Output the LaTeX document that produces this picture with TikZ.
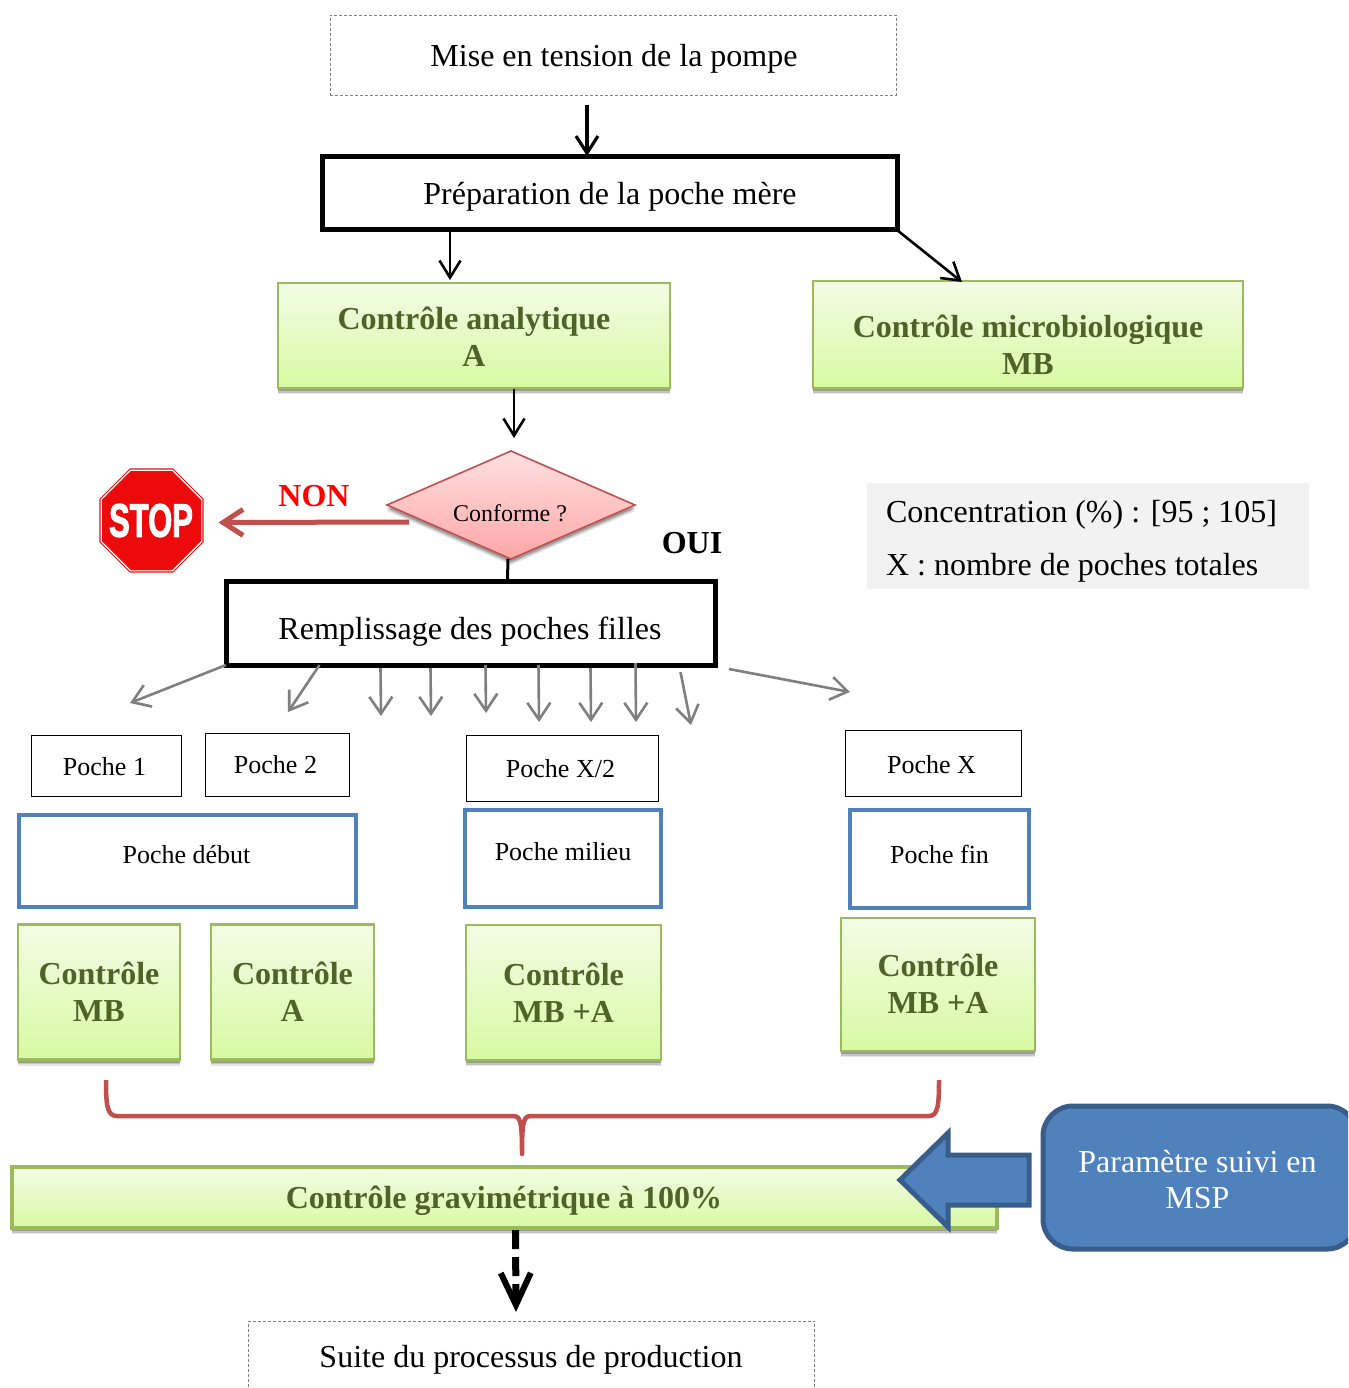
\documentclass[tikz,border=0pt]{standalone}
\usepackage{fontspec}
\setmainfont{Liberation Serif}
\setsansfont{Liberation Sans}
\newfontfamily\stopfont[BoldFeatures={FakeBold=2.5}]{Liberation Sans}
\usetikzlibrary{arrows.meta,shapes.geometric,shadows}
\definecolor{gborder}{HTML}{9BBB59}
\definecolor{gtext}{HTML}{4F6228}
\definecolor{gtop}{HTML}{F3FCE6}
\definecolor{gbot}{HTML}{D8FAA2}
\definecolor{bline}{HTML}{4F81BD}
\definecolor{bdark}{HTML}{385D8A}
\definecolor{rline}{HTML}{C0504D}
\definecolor{stopred}{HTML}{EC0A0A}
\definecolor{gline}{HTML}{7F7F7F}
\tikzset{
  x=1pt,y=-1pt,
  every node/.style={outer sep=0pt,inner sep=0pt,align=center},
  softshadow/.style={
    drop shadow={shadow xshift=0pt,shadow yshift=-6pt,opacity=.10,fill=black},
    drop shadow={shadow xshift=0pt,shadow yshift=-4.5pt,opacity=.14,fill=black},
    drop shadow={shadow xshift=0pt,shadow yshift=-3pt,opacity=.20,fill=black}},
  dotbox/.style={draw=gray,line width=.9pt,densely dashed,fill=white},
  thickbox/.style={draw=black,line width=5pt,fill=white},
  thinbox/.style={draw=black,line width=1pt,fill=white},
  bluebox/.style={draw=bline,line width=4.5pt,fill=white},
  greenbox/.style={draw=gborder,line width=2.5pt,top color=gtop,bottom color=gbot,softshadow,text=gtext,font=\fontsize{32}{37}\selectfont\bfseries},
  big/.style={font=\fontsize{32}{36}\selectfont},
  mid/.style={font=\fontsize{26}{30}\selectfont},
  heavy/.style={font=\fontsize{32}{37}\selectfont\bfseries},
  blk/.style={draw=black,-{Straight Barb[length=17pt,width=22pt,line width=3.2pt]}},
  blkthin/.style={draw=black,line width=2.6pt,-{Straight Barb[length=17pt,width=21pt,line width=2.6pt]}},
  gry/.style={draw=gline,line width=2.6pt,-{Straight Barb[length=17pt,width=23pt,line width=2.6pt]}},
}
\begin{document}
\begin{tikzpicture}
\clip (0,0) rectangle (1348,1388);
\fill[white] (0,0) rectangle (1348,1388);
% top boxes
\node[dotbox,minimum width=566pt,minimum height=80pt] (mise) at (613,55) {};
\node[big] (miset) at (614,58.5) {Mise en tension de la pompe};
\node[thickbox,minimum width=575pt,minimum height=73pt] (prep) at (609.5,193.5) {};
\node[big] (prept) at (610,196.5) {Préparation de la poche mère};
\node[greenbox,minimum width=392pt,minimum height=105pt] (ana) at (474,335.5) {};
\node[heavy,text=gtext] (anat) at (474,336.5) {Contrôle analytique\\A};
\node[greenbox,minimum width=430pt,minimum height=107pt] (micro) at (1028,334.5) {};
\node[heavy,text=gtext] (microt) at (1028,344.5) {Contrôle microbiologique\\MB};
% decision
\node[diamond,aspect=2.3,draw=rline,line width=1.6pt,top color=red!12,bottom color=red!35,minimum width=248pt,minimum height=108pt,softshadow] (conf) at (511,505) {};
\node[font=\fontsize{24}{28}\selectfont] (conft) at (510,513) {Conforme ?};
\node[regular polygon,regular polygon sides=8,minimum size=109pt,fill=stopred,draw=stopred,double=white,double distance=1.2pt,line width=1.1pt] (stop) at (151.5,520.5) {};
\node[text=white] (stopt) at (151,520.5) {\scalebox{.66}[1]{\fontsize{47}{50}\selectfont\stopfont\bfseries STOP}};
\node[heavy,text=red] (non) at (314,496) {NON};
\node[heavy] (oui) at (692,543) {OUI};
\node[thickbox,minimum width=489pt,minimum height=84pt] (rempli) at (470.5,623) {};
\node[big] (remplit) at (470,632) {Remplissage des poches filles};
% info
\node[fill=black!5,minimum width=442pt,minimum height=106pt] (info) at (1088,536) {};
\node[anchor=west,big] (infoa) at (886,514.5) {Concentration (\%) : [95 ; 105]};
\node[anchor=west,big] (infob) at (886,567.5) {X : nombre de poches totales};
% poches
\node[thinbox,minimum width=150pt,minimum height=61pt] (p1) at (106,765.5) {};
\node[mid] (p1t) at (104.5,766.5) {Poche 1};
\node[thinbox,minimum width=144pt,minimum height=63pt] (p2) at (277,764.5) {};
\node[mid] (p2t) at (275.5,764.5) {Poche 2};
\node[thinbox,minimum width=192pt,minimum height=66pt] (pm) at (562,768) {};
\node[mid] (pmt) at (560.5,768.5) {Poche X/2};
\node[thinbox,minimum width=176pt,minimum height=66pt] (px) at (933,763) {};
\node[mid] (pxt) at (931.5,764.5) {Poche X};
\node[bluebox,minimum width=337pt,minimum height=92pt] (deb) at (187.5,861) {};
\node[mid] (debt) at (186.5,855) {Poche début};
\node[bluebox,minimum width=196pt,minimum height=97pt] (mil) at (563,858.5) {};
\node[mid] (milt) at (563,852) {Poche milieu};
\node[bluebox,minimum width=179pt,minimum height=98pt] (fin) at (939.5,859) {};
\node[mid] (fint) at (939.5,854.5) {Poche fin};
% green controls
\node[greenbox,minimum width=162pt,minimum height=135pt] (c1) at (99,992) {Contrôle\\MB};
\node[greenbox,minimum width=163pt,minimum height=135pt] (c2) at (292.5,992) {Contrôle\\A};
\node[greenbox,minimum width=195pt,minimum height=135pt] (c3) at (563.5,992.5) {Contrôle\\MB +A};
\node[greenbox,minimum width=194pt,minimum height=133pt] (c4) at (938,984.5) {};
\node[heavy,text=gtext] (c4t) at (938,983.5) {Contrôle\\MB +A};
% brace
\draw[rline,line width=4.5pt,line join=round] (106,1080) .. controls (106,1105) and (107,1116) .. (117,1116) -- (512,1116) .. controls (520,1116) and (522,1118) .. (522,1154) .. controls (522,1118) and (524,1116) .. (532,1116) -- (929,1116) .. controls (938,1116) and (939,1105) .. (939,1080);
% gravimetric
\node[greenbox,line width=4pt,minimum width=985pt,minimum height=61pt] (grav) at (504.5,1197.5) {};
\node[text=gtext,heavy] (gravt) at (504,1201) {Contrôle gravimétrique à 100\%};
% MSP arrow and box
\draw[bdark,line width=5pt,fill=bline,line join=miter] (1029,1155) -- (948,1155) -- (948,1133) -- (900,1180) -- (948,1227) -- (948,1205) -- (1029,1205) -- cycle;
\node[draw=bdark,fill=bline,line width=5pt,rounded corners=30pt,minimum width=314pt,minimum height=143pt] (msp) at (1200,1177.5) {};
\node[text=white,big] (mspt) at (1197.5,1179.5) {Paramètre suivi en\\MSP};
% bottom
\node[dotbox,minimum width=566pt,minimum height=80pt] (suite) at (531.5,1361) {};
\node[big] (suitet) at (531,1359.5) {Suite du processus de production};
% end points of the free arrows
\coordinate (g1) at (130,703);
\coordinate (g2) at (288,712);
\coordinate (g3) at (381,716);
\coordinate (g4) at (431,716);
\coordinate (g5) at (486,713);
\coordinate (g6) at (539,722);
\coordinate (g7) at (591,722);
\coordinate (g8) at (636,722);
\coordinate (g9) at (691,725);
\coordinate (g10) at (850,692);
% connectors
\draw[blk,line width=3.4pt] ([shift={(-26,10)}]mise.south) -- ([shift={(-22.5,-1)}]prep.north);
\draw[blkthin] ([shift={(-159.5,2)}]prep.south) -- ([shift={(-24,-3)}]ana.north);
\draw[blkthin] (prep.south east) -- ([shift={(-66,1)}]micro.north);
\draw[blkthin] ([shift={(40,1)}]ana.south) -- ([shift={(3,-13)}]conf.north);
\draw[black,line width=3pt] ([shift={(-3,0)}]conf.south) -- ([shift={(37,-2)}]rempli.north);
\draw[rline,line width=5pt,-{Straight Barb[length=20pt,width=26pt,line width=5pt]}] ([shift={(-102,17)}]conf.center) -- ([shift={(67,2)}]stop.center);
\draw[gry] (rempli.south west) -- (g1);
\draw[gry] ([shift={(-151,0)}]rempli.south) -- (g2);
\draw[gry] ([shift={(-90,3)}]rempli.south) -- (g3);
\draw[gry] ([shift={(-40,3)}]rempli.south) -- (g4);
\draw[gry] ([shift={(15,0)}]rempli.south) -- (g5);
\draw[gry] ([shift={(68,0)}]rempli.south) -- (g6);
\draw[gry] ([shift={(120,3)}]rempli.south) -- (g7);
\draw[gry] ([shift={(165,-2)}]rempli.south) -- (g8);
\draw[gry] ([shift={(210,7)}]rempli.south) -- (g9);
\draw[gry] ([shift={(14,4)}]rempli.south east) -- (g10);
\draw[black,line width=7pt,dash pattern=on 19pt off 8pt,-{Straight Barb[length=32pt,width=30pt,line width=6pt]}] ([shift={(11,2)}]grav.south) -- ([shift={(-15.5,-9)}]suite.north);
\end{tikzpicture}
\end{document}
